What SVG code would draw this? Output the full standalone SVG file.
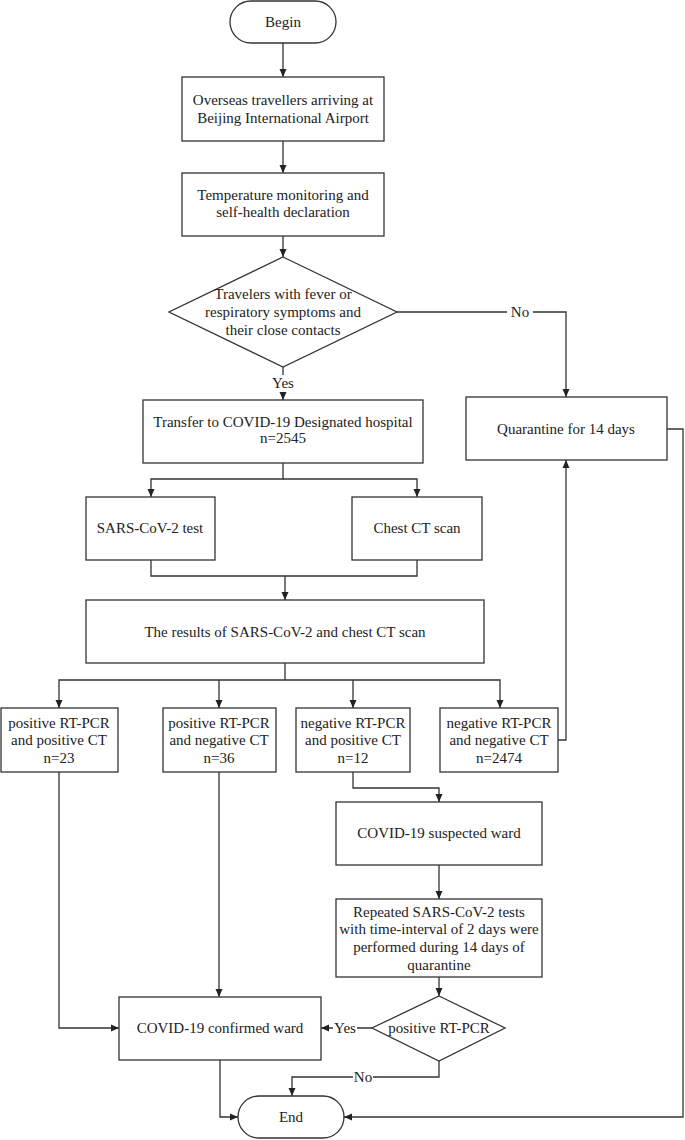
<svg xmlns="http://www.w3.org/2000/svg" width="685" height="1140" viewBox="0 0 685 1140">
<style>
.n{fill:#fff;stroke:#333;stroke-width:1.3}
.t{font-family:"Liberation Serif","Times New Roman",serif;font-size:15px;fill:#222;text-anchor:middle}
.c{fill:none;stroke:#333;stroke-width:1.3}
.a{marker-end:url(#ah)}
.lb{fill:#fff;stroke:none}
</style>
<defs>
<marker id="ah" markerUnits="userSpaceOnUse" markerWidth="8" markerHeight="8" refX="8" refY="4" orient="auto">
<path d="M0,0.5 L8,4 L0,7.5 z" fill="#222"/>
</marker>
</defs>
<rect width="685" height="1140" fill="#fff"/>
<g id="connectors">
<path class="c a" d="M283,43 V77"/>
<path class="c a" d="M283,141 V173"/>
<path class="c a" d="M283,236 V257"/>
<path class="c a" d="M283,367 V400"/>
<path class="c a" d="M397,312 H566 V397"/>
<path class="c a" d="M283,463 V479 H151 V497"/>
<path class="c a" d="M283,479 H417 V497"/>
<path class="c" d="M151,560 V576 H417 V560"/>
<path class="c a" d="M285,576 V600"/>
<path class="c" d="M285,663 V680"/>
<path class="c a" d="M285,680 H59 V708"/>
<path class="c a" d="M285,680 H500 V708"/>
<path class="c a" d="M219,680 V708"/>
<path class="c a" d="M353,680 V708"/>
<path class="c a" d="M558,740 H566 V460"/>
<path class="c a" d="M667,429 H683 V1117 H344"/>
<path class="c a" d="M353,772 V788 H439 V802"/>
<path class="c a" d="M439,865 V899"/>
<path class="c a" d="M439,977 V996"/>
<path class="c a" d="M372,1028 H321"/>
<path class="c a" d="M59,772 V1028 H119"/>
<path class="c a" d="M219,772 V997"/>
<path class="c a" d="M220,1060 V1117 H238"/>
<path class="c a" d="M439,1061 V1077 H292 V1096"/>
<rect class="lb" x="270" y="375" width="26" height="17"/>
<text class="t" x="283" y="388">Yes</text>
<rect class="lb" x="507" y="304" width="26" height="16"/>
<text class="t" x="520" y="317">No</text>
<rect class="lb" x="333" y="1020" width="24" height="16"/>
<text class="t" x="345" y="1033">Yes</text>
<rect class="lb" x="353" y="1069" width="20" height="16"/>
<text class="t" x="363" y="1082">No</text>
</g>
<g id="begin">
<rect class="n" x="230" y="1" width="106" height="42" rx="21"/>
<text class="t" x="283" y="27">Begin</text>
</g>
<g id="arrival">
<rect class="n" x="182" y="77" width="202" height="64"/>
<text class="t" x="283" y="105">Overseas travellers arriving at</text>
<text class="t" x="283" y="123">Beijing International Airport</text>
</g>
<g id="temperature">
<rect class="n" x="182" y="173" width="202" height="63"/>
<text class="t" x="283" y="200">Temperature monitoring and</text>
<text class="t" x="283" y="217">self-health declaration</text>
</g>
<g id="symptoms">
<polygon class="n" points="283,257 397,312 283,367 169,312"/>
<text class="t" x="283" y="299">Travelers with fever or</text>
<text class="t" x="283" y="317">respiratory symptoms and</text>
<text class="t" x="283" y="335">their close contacts</text>
</g>
<g id="transfer">
<rect class="n" x="143" y="400" width="280" height="63"/>
<text class="t" x="283" y="427">Transfer to COVID-19 Designated hospital</text>
<text class="t" x="283" y="443">n=2545</text>
</g>
<g id="quarantine">
<rect class="n" x="466" y="397" width="201" height="63"/>
<text class="t" x="566" y="434">Quarantine for 14 days</text>
</g>
<g id="sars">
<rect class="n" x="86" y="497" width="129" height="63"/>
<text class="t" x="150" y="533">SARS-CoV-2 test</text>
</g>
<g id="chest">
<rect class="n" x="352" y="497" width="130" height="63"/>
<text class="t" x="417" y="533">Chest CT scan</text>
</g>
<g id="results">
<rect class="n" x="86" y="600" width="398" height="63"/>
<text class="t" x="285" y="637">The results of SARS-CoV-2 and chest CT scan</text>
</g>
<g id="pospos">
<rect class="n" x="1" y="708" width="117" height="64"/>
<text class="t" x="59" y="728">positive RT-PCR</text>
<text class="t" x="59" y="745">and positive CT</text>
<text class="t" x="59" y="763">n=23</text>
</g>
<g id="posneg">
<rect class="n" x="163" y="708" width="113" height="64"/>
<text class="t" x="219" y="728">positive RT-PCR</text>
<text class="t" x="219" y="745">and negative CT</text>
<text class="t" x="219" y="763">n=36</text>
</g>
<g id="negpos">
<rect class="n" x="296" y="708" width="114" height="64"/>
<text class="t" x="353" y="728">negative RT-PCR</text>
<text class="t" x="353" y="745">and positive CT</text>
<text class="t" x="353" y="763">n=12</text>
</g>
<g id="negneg">
<rect class="n" x="440" y="708" width="118" height="64"/>
<text class="t" x="499" y="728">negative RT-PCR</text>
<text class="t" x="499" y="745">and negative CT</text>
<text class="t" x="499" y="763">n=2474</text>
</g>
<g id="suspected">
<rect class="n" x="336" y="802" width="206" height="63"/>
<text class="t" x="439" y="838">COVID-19 suspected ward</text>
</g>
<g id="repeated">
<rect class="n" x="336" y="899" width="206" height="78"/>
<text class="t" x="439" y="917">Repeated SARS-CoV-2 tests</text>
<text class="t" x="439" y="934">with time-interval of 2 days were</text>
<text class="t" x="439" y="952">performed during 14 days of</text>
<text class="t" x="439" y="970">quarantine</text>
</g>
<g id="positive">
<polygon class="n" points="439,996 505,1028 439,1061 372,1028"/>
<text class="t" x="439" y="1033">positive RT-PCR</text>
</g>
<g id="confirmed">
<rect class="n" x="119" y="997" width="202" height="63"/>
<text class="t" x="220" y="1033">COVID-19 confirmed ward</text>
</g>
<g id="end">
<rect class="n" x="238" y="1096" width="106" height="42" rx="21"/>
<text class="t" x="291" y="1122">End</text>
</g>
</svg>
